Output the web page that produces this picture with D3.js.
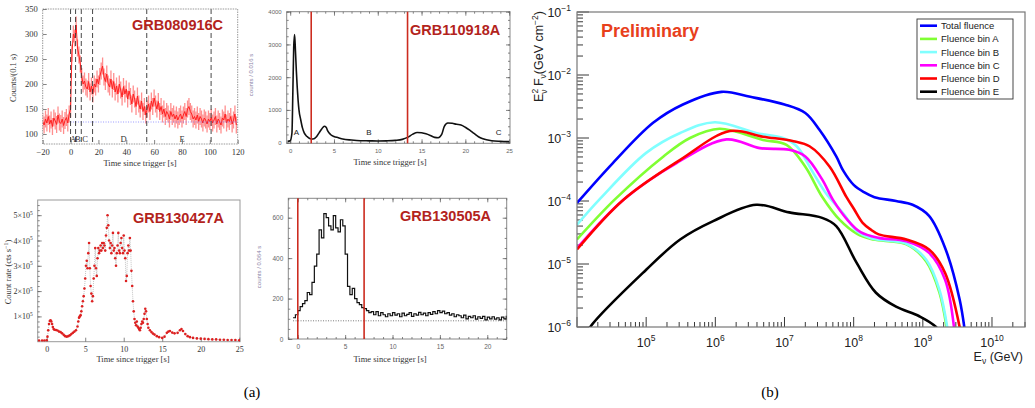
<!DOCTYPE html>
<html>
<head>
<meta charset="utf-8">
<script src="https://cdn.jsdelivr.net/npm/d3@7"></script>
<style>
  body { margin: 0; background: #fff; }
  svg { display: block; }
</style>
</head>
<body>
<svg width="1035" height="408"></svg>
<script>
// ---------- data: (a) light curves ----------
const binEdges080916C = [0, 3.6, 7.7, 15.8, 54.7, 100.9];
const binNames080916C = ["A", "B", "C", "D", "E"];
const binLabelX080916C = [1.8, 5.2, 10.5, 38, 80];
// counts / 0.1 s, one value per second from -20 s
const counts080916C = [
  [-20,125],[-19,118],[-18,130],[-17,122],[-16,135],[-15,120],[-14,128],[-13,115],[-12,132],[-11,126],
  [-10,119],[-9,138],[-8,124],[-7,121],[-6,130],[-5,117],[-4,127],[-3,133],[-2,122],[-1,140],
  [0,150],[1,262],[2,300],[3,292],[4,318],[5,272],[6,258],[7,240],[8,215],[9,200],
  [10,206],[11,194],[12,190],[13,205],[14,184],[15,196],[16,180],[17,200],[18,194],[19,210],
  [20,200],[21,215],[22,226],[23,236],[24,214],[25,205],[26,220],[27,200],[28,194],[29,210],
  [30,190],[31,205],[32,184],[33,196],[34,180],[35,200],[36,188],[37,174],[38,195],[39,180],
  [40,190],[41,170],[42,186],[43,175],[44,160],[45,180],[46,170],[47,155],[48,176],[49,160],
  [50,150],[51,166],[52,145],[53,155],[54,138],[55,150],[56,160],[57,145],[58,166],[59,155],
  [60,172],[61,160],[62,150],[63,165],[64,145],[65,155],[66,140],[67,150],[68,135],[69,145],
  [70,140],[71,130],[72,145],[73,135],[74,140],[75,130],[76,138],[77,128],[78,135],[79,140],
  [80,130],[81,138],[82,145],[83,135],[84,150],[85,155],[86,145],[87,140],[88,130],[89,135],
  [90,128],[91,138],[92,125],[93,135],[94,130],[95,122],[96,132],[97,128],[98,120],[99,130],
  [100,125],[101,133],[102,122],[103,128],[104,135],[105,120],[106,130],[107,125],[108,118],[109,132],
  [110,128],[111,140],[112,122],[113,130],[114,125],[115,135],[116,120],[117,128],[118,140],[119,118]
];
const background080916C = 124;

const cuts110918A = [2.4, 13.4];
const counts110918A = [
  [-0.3,40],[0,60],[0.2,300],[0.3,1500],[0.4,2900],[0.5,3300],[0.6,2800],[0.7,2200],[0.8,1700],[0.9,1300],
  [1.0,1000],[1.2,700],[1.4,450],[1.6,300],[1.8,220],[2.0,170],[2.3,120],[2.6,110],[3.0,180],[3.3,300],
  [3.6,420],[3.9,500],[4.1,470],[4.3,350],[4.6,250],[5.0,190],[5.5,150],[6,110],[7,80],[8,60],
  [9,55],[10,50],[11,55],[12,70],[12.8,100],[13.4,160],[14,260],[14.5,310],[15,300],[15.5,270],
  [16,220],[16.5,160],[16.9,150],[17.3,250],[17.6,500],[18,600],[18.5,590],[19,560],[19.5,540],[20,470],
  [20.5,380],[21,280],[21.5,180],[22,120],[23,60],[24,40],[25,30]
];
const letters110918A = [["A", 0.7], ["B", 9], ["C", 23.8]];

// count rate in units of 1e5 cts/s
const rate130427A = [
  [-1.0,0.05],[-0.6,0.05],[-0.3,0.05],[0,0.06],[0.1,0.2],[0.2,0.45],[0.3,0.7],[0.4,0.82],[0.5,0.85],[0.6,0.8],
  [0.7,0.7],[0.8,0.58],[0.9,0.5],[1.0,0.47],[1.2,0.46],[1.4,0.44],[1.6,0.4],[1.8,0.38],[2.0,0.33],[2.2,0.27],
  [2.4,0.22],[2.6,0.2],[2.8,0.22],[3.0,0.25],[3.2,0.3],[3.4,0.35],[3.6,0.4],[3.8,0.45],[4.0,0.6],[4.1,0.8],
  [4.2,0.95],[4.3,1.0],[4.4,1.05],[4.5,1.2],[4.6,1.4],[4.7,1.6],[4.8,1.8],[4.9,2.1],[5.0,2.5],[5.1,3.0],
  [5.2,3.2],[5.3,2.9],[5.4,3.5],[5.5,3.9],[5.6,2.9],[5.7,2.2],[5.8,1.9],[5.9,1.6],[6.0,1.8],[6.1,2.5],
  [6.2,3.0],[6.3,3.7],[6.4,2.9],[6.5,2.6],[6.6,3.3],[6.7,3.7],[6.8,3.5],[6.9,3.6],[7.0,3.8],[7.1,3.6],
  [7.2,3.9],[7.3,3.7],[7.4,3.9],[7.5,3.8],[7.6,3.6],[7.7,4.2],[7.8,4.5],[7.9,5.0],[8.0,4.6],[8.1,4.0],
  [8.2,3.7],[8.3,3.9],[8.4,3.5],[8.5,3.8],[8.6,4.3],[8.7,3.6],[8.8,3.7],[8.9,3.3],[9.0,3.0],[9.1,3.5],
  [9.2,3.8],[9.3,4.3],[9.4,3.6],[9.5,3.5],[9.6,3.9],[9.7,4.1],[9.8,3.7],[9.9,3.5],[10.0,4.2],[10.1,3.6],
  [10.2,3.3],[10.3,2.4],[10.4,2.6],[10.5,3.5],[10.6,3.8],[10.7,3.6],[10.8,4.1],[10.9,3.6],[11.0,2.8],[11.1,2.2],
  [11.2,1.6],[11.3,1.2],[11.4,0.9],[11.5,0.75],[11.6,0.65],[11.7,0.8],[11.8,0.6],[11.9,0.55],[12.0,0.5],[12.1,0.45],
  [12.2,0.55],[12.3,0.7],[12.4,0.8],[12.5,0.75],[12.6,0.9],[12.7,1.1],[12.8,1.3],[12.9,1.2],[13.0,0.9],[13.1,0.7],
  [13.2,0.55],[13.4,0.45],[13.6,0.38],[13.8,0.32],[14.0,0.28],[14.3,0.22],[14.6,0.18],[15.0,0.15],[15.3,0.2],[15.6,0.35],
  [15.8,0.4],[16.0,0.42],[16.3,0.36],[16.6,0.33],[17.0,0.35],[17.3,0.45],[17.5,0.5],[17.7,0.42],[18.0,0.3],[18.3,0.22],
  [18.6,0.18],[19.0,0.15],[19.5,0.13],[20,0.12],[20.5,0.11],[21,0.1],[21.5,0.09],[22,0.09],[22.5,0.08],[23,0.08],
  [23.5,0.07],[24,0.07],[24.5,0.07],[25,0.06]
];

const cuts130505A = [0, 7];
const background130505A = 90;
const counts130505A = [
  [-0.5,105],[-0.25,120],[0,140],[0.25,160],[0.5,175],[0.75,190],[1.0,230],[1.25,220],[1.5,280],[1.75,360],
  [2.0,420],[2.25,540],[2.5,500],[2.75,620],[3.0,600],[3.25,560],[3.5,540],[3.75,610],[4.0,550],[4.25,530],
  [4.5,590],[4.75,560],[5.0,420],[5.25,260],[5.5,220],[5.75,250],[6.0,200],[6.25,180],[6.5,170],[6.75,155],
  [7.0,150],[7.25,140],[7.5,130],[7.75,135],[8.0,120],[8.25,135],[8.5,115],[8.75,130],[9.0,120],[9.25,110],
  [9.5,125],[9.75,115],[10.0,130],[10.25,118],[10.5,125],[10.75,110],[11.0,128],[11.25,115],[11.5,122],[11.75,130],
  [12.0,112],[12.25,125],[12.5,118],[12.75,132],[13.0,120],[13.25,128],[13.5,115],[13.75,130],[14.0,122],[14.25,135],
  [14.5,125],[14.75,140],[15.0,130],[15.25,138],[15.5,125],[15.75,130],[16.0,118],[16.25,125],[16.5,110],[16.75,120],
  [17.0,115],[17.25,105],[17.5,118],[17.75,100],[18.0,112],[18.25,105],[18.5,115],[18.75,98],[19.0,110],[19.25,102],
  [19.5,112],[19.75,95],[20.0,108],[20.25,100],[20.5,110],[20.75,98],[21.0,105],[21.25,95],[21.5,108],[21.75,100],[22.0,115]
];

// ---------- data: (b) neutrino fluence, [E (GeV), E^2 F (GeV cm^-2)] ----------
const fluenceTotal = [[1e4,9.3e-5],[3.3e4,4.0e-4],[1.26e5,1.74e-3],[3.4e5,3.4e-3],[1.23e6,5.4e-3],[3.2e6,4.5e-3],
  [1.0e7,3.4e-3],[2.0e7,2.5e-3],[3.2e7,1.35e-3],[5.6e7,5.1e-4],[7.1e7,3.0e-4],[1.0e8,1.8e-4],[1.41e8,1.38e-4],
  [2.0e8,1.15e-4],[4.1e8,1.0e-4],[7.1e8,8.7e-5],[1.23e9,5.8e-5],[2.1e9,1.8e-5],[3.4e9,2.75e-6],[4.2e9,6.3e-7]];
const fluenceA = [[1e4,2.45e-5],[3.5e4,1.05e-4],[1.78e5,5.1e-4],[4.3e5,1.0e-3],[1.15e6,1.4e-3],[4.9e6,9.3e-4],
  [1.07e7,7.8e-4],[2.0e7,3.5e-4],[3.5e7,1.17e-4],[6.3e7,5.0e-5],[1.12e8,3.0e-5],[1.78e8,2.5e-5],[3.2e8,2.3e-5],
  [5.8e8,2.05e-5],[1.12e9,1.1e-5],[1.74e9,3.5e-6],[2.35e9,6.3e-7]];
const fluenceB = [[1e4,4.2e-5],[2.1e4,1.05e-4],[1e5,5.8e-4],[3.1e5,1.2e-3],[9.8e5,1.78e-3],[3.9e6,1.2e-3],
  [9.5e6,1.0e-3],[1.5e7,7.4e-4],[2.6e7,2.8e-4],[4.0e7,1.32e-4],[7.1e7,6.3e-5],[1.12e8,3.3e-5],[1.78e8,2.57e-5],
  [3.2e8,2.35e-5],[5.8e8,2.1e-5],[1.12e9,1.17e-5],[1.74e9,3.9e-6],[2.4e9,6.3e-7]];
const fluenceC = [[1e4,1.78e-5],[4.7e4,1.05e-4],[2.75e5,4.0e-4],[1.45e6,9.5e-4],[4.4e6,6.9e-4],[1.17e7,6.5e-4],
  [2.0e7,5.1e-4],[3.5e7,2.2e-4],[5.0e7,1.05e-4],[7.9e7,5.2e-5],[1.26e8,3.2e-5],[2.3e8,2.6e-5],[5.8e8,2.3e-5],
  [1.23e9,1.5e-5],[2.1e9,5.6e-6],[2.95e9,6.3e-7]];
const fluenceD = [[1e4,1.7e-5],[4.7e4,1.05e-4],[3.1e5,4.5e-4],[1.62e6,1.29e-3],[4.9e6,1.05e-3],[1.35e7,8.9e-4],
  [2.3e7,7.4e-4],[4.5e7,3.5e-4],[7.8e7,1.17e-4],[1.0e8,7.6e-5],[1.35e8,4.5e-5],[1.78e8,3.5e-5],[2.3e8,2.95e-5],
  [5.8e8,2.45e-5],[1.23e9,1.7e-5],[2.1e9,7.2e-6],[3.7e9,6.3e-7]];
const fluenceE = [[1.26e4,6.3e-7],[1.55e4,1e-6],[1e5,8.1e-6],[3.1e5,2.45e-5],[9.3e5,4.8e-5],[3.9e6,8.7e-5],
  [1.17e7,6.6e-5],[3.5e7,5.4e-5],[5.6e7,4.0e-5],[1.1e8,1.05e-5],[2.1e8,3.5e-6],[4.1e8,2.1e-6],[8.9e8,1.48e-6],
  [1.55e9,1e-6],[2.0e9,6.3e-7]];
const fluenceNames = ["Total fluence", "Fluence bin A", "Fluence bin B", "Fluence bin C", "Fluence bin D", "Fluence bin E"];
const fluenceColors = ["#0000ff", "#80ff33", "#80ffff", "#ff00ff", "#ff0000", "#000000"];
const fluenceSeries = [fluenceTotal, fluenceA, fluenceB, fluenceC, fluenceD, fluenceE];

// ---------- drawing ----------
const svg = d3.select("svg");
const serif = "'Liberation Serif','DejaVu Serif',serif";
const sans = "'Liberation Sans',Arial,sans-serif";
const titleRed = "#b3231c";
const defs = svg.append("defs");

function makePanel(o) {
    const g = svg.append("g");
    const x = d3.scaleLinear().domain(o.xDomain).range([o.x0, o.x1]);
    const y = d3.scaleLinear().domain(o.yDomain).range([o.y1, o.y0]);
    defs.append("clipPath").attr("id", "clip-" + o.name)
        .append("rect").attr("x", o.x0).attr("y", o.y0)
        .attr("width", o.x1 - o.x0).attr("height", o.y1 - o.y0);
    return { g, x, y, clip: "url(#clip-" + o.name + ")", o };
}

function styleAxis(a, font, size, color) {
    a.select(".domain").remove();
    a.selectAll("line").attr("stroke", "#666").attr("stroke-width", 0.8);
    a.selectAll("text").attr("font-family", font).attr("font-size", size).attr("fill", color);
    return a;
}

function ticksOn(p, xMajor, yMajor, xMinor, yMinor, font, size, color, allSides, yFmt) {
    const { g, x, y, o } = p;
    styleAxis(g.append("g").attr("transform", `translate(0,${o.y1})`)
        .call(d3.axisBottom(x).tickValues(xMajor).tickSize(-4).tickPadding(5)), font, size, color);
    const ay = styleAxis(g.append("g").attr("transform", `translate(${o.x0},0)`)
        .call(d3.axisLeft(y).tickValues(yMajor).tickSize(-4).tickPadding(5).tickFormat(yFmt || null)), font, size, color);
    if (xMinor) styleAxis(g.append("g").attr("transform", `translate(0,${o.y1})`)
        .call(d3.axisBottom(x).tickValues(xMinor).tickSize(-2).tickFormat("")), font, size, color);
    if (yMinor) styleAxis(g.append("g").attr("transform", `translate(${o.x0},0)`)
        .call(d3.axisLeft(y).tickValues(yMinor).tickSize(-2).tickFormat("")), font, size, color);
    if (allSides) {
        styleAxis(g.append("g").attr("transform", `translate(0,${o.y0})`)
            .call(d3.axisTop(x).tickValues(xMajor).tickSize(-4).tickFormat("")), font, size, color);
        styleAxis(g.append("g").attr("transform", `translate(${o.x1},0)`)
            .call(d3.axisRight(y).tickValues(yMajor).tickSize(-4).tickFormat("")), font, size, color);
        if (xMinor) styleAxis(g.append("g").attr("transform", `translate(0,${o.y0})`)
            .call(d3.axisTop(x).tickValues(xMinor).tickSize(-2).tickFormat("")), font, size, color);
        if (yMinor) styleAxis(g.append("g").attr("transform", `translate(${o.x1},0)`)
            .call(d3.axisRight(y).tickValues(yMinor).tickSize(-2).tickFormat("")), font, size, color);
    }
    return ay;
}

function frame(p, color, dash) {
    const { o } = p;
    p.g.append("rect").attr("x", o.x0).attr("y", o.y0)
        .attr("width", o.x1 - o.x0).attr("height", o.y1 - o.y0)
        .attr("fill", "none").attr("stroke", color).attr("stroke-width", 1)
        .attr("stroke-dasharray", dash || null);
}

function title(x, y, txt) {
    svg.append("text").attr("x", x).attr("y", y).attr("font-family", sans)
        .attr("font-weight", "bold").attr("font-size", 14.5).attr("fill", titleRed).text(txt);
}

function axisLabel(x, y, txt, font, size, color, rotate) {
    svg.append("text").attr("transform", `translate(${x},${y})` + (rotate ? " rotate(-90)" : ""))
        .attr("text-anchor", "middle").attr("font-family", font).attr("font-size", size)
        .attr("fill", color).text(txt);
}

const range = (a, b, s) => d3.range(a, b + s / 2, s);

// ---- GRB080916C ----
{
    const p = makePanel({ name: "p1", x0: 42.7, x1: 237.7, y0: 9, y1: 144, xDomain: [-20, 120], yDomain: [80, 350] });
    const { g, x, y, clip } = p;
    const dg = g.append("g").attr("clip-path", clip);
    dg.selectAll("line.err").data(counts080916C).join("line").attr("class", "err")
        .attr("x1", d => x(d[0])).attr("x2", d => x(d[0]))
        .attr("y1", d => y(d[1] - 17)).attr("y2", d => y(d[1] + 17))
        .attr("stroke", "#ff6060").attr("stroke-width", 1.3).attr("opacity", 0.7);
    dg.append("path").datum(counts080916C)
        .attr("d", d3.line().x(d => x(d[0])).y(d => y(d[1])))
        .attr("fill", "none").attr("stroke", "#ff2020").attr("stroke-width", 1);
    dg.append("line").attr("x1", x(0)).attr("x2", x(120))
        .attr("y1", y(background080916C)).attr("y2", y(background080916C))
        .attr("stroke", "#7f7fff").attr("stroke-width", 0.8).attr("stroke-dasharray", "1,1.5");
    g.selectAll("line.bin").data(binEdges080916C).join("line").attr("class", "bin")
        .attr("x1", d => x(d)).attr("x2", d => x(d)).attr("y1", p.o.y0).attr("y2", p.o.y1)
        .attr("stroke", "#333").attr("stroke-width", 0.9).attr("stroke-dasharray", "5,3");
    g.selectAll("text.bin").data(binNames080916C).join("text").attr("class", "bin")
        .attr("x", (d, i) => x(binLabelX080916C[i])).attr("y", 141.5).attr("text-anchor", "middle")
        .attr("font-family", serif).attr("font-size", 8.5).attr("fill", "#333").text(d => d);
    frame(p, "#999", "1.5,1");
    ticksOn(p, range(-20, 120, 20), range(100, 350, 50), null, null, serif, 8.5, "#333", false);
    title(132, 30, "GRB080916C");
    axisLabel(16, 78, "Counts/(0.1 s)", serif, 8.5, "#333", true);
    axisLabel(140, 166, "Time since trigger [s]", serif, 8.5, "#333", false);
}

// ---- GRB110918A ----
{
    const p = makePanel({ name: "p2", x0: 286.7, x1: 510, y0: 11.7, y1: 143.3, xDomain: [-0.4, 25.1], yDomain: [-20, 4000] });
    const { g, x, y, clip } = p;
    frame(p, "#888");
    ticksOn(p, range(0, 25, 5), range(0, 4000, 1000), range(0, 25, 1), range(0, 4000, 250), sans, 6, "#666", true, d3.format("d"));
    const dg = g.append("g").attr("clip-path", clip);
    dg.append("path").datum(counts110918A)
        .attr("d", d3.line().x(d => x(d[0])).y(d => y(d[1])).curve(d3.curveMonotoneX))
        .attr("fill", "none").attr("stroke", "#111").attr("stroke-width", 1.6);
    g.selectAll("line.cut").data(cuts110918A).join("line").attr("class", "cut")
        .attr("x1", d => x(d)).attr("x2", d => x(d)).attr("y1", p.o.y0).attr("y2", p.o.y1)
        .attr("stroke", "#cc2b1f").attr("stroke-width", 1.6);
    g.selectAll("text.let").data(letters110918A).join("text").attr("class", "let")
        .attr("x", d => x(d[1])).attr("y", 135).attr("text-anchor", "middle")
        .attr("font-family", sans).attr("font-size", 8).attr("fill", "#222").text(d => d[0]);
    title(410, 35, "GRB110918A");
    axisLabel(253, 75, "counts / 0.016 s", sans, 6, "#8a7fa6", true);
    axisLabel(390, 165, "Time since trigger [s]", serif, 8.5, "#333", false);
}

// ---- GRB130427A ----
{
    const p = makePanel({ name: "p3", x0: 37.7, x1: 240, y0: 200, y1: 341.7, xDomain: [-1.17, 25.1], yDomain: [0, 5.6] });
    const { g, x, y, clip } = p;
    frame(p, "#999");
    const ay = ticksOn(p, range(0, 25, 5), range(1, 5, 1), null, range(0.2, 5.4, 0.2), serif, 8, "#333", false);
    ay.selectAll("text").text(null).each(function (d) {
        const t = d3.select(this);
        t.append("tspan").text(d + "×10");
        t.append("tspan").attr("dy", -3.5).attr("font-size", 5.5).text("5");
    });
    const dg = g.append("g").attr("clip-path", clip);
    dg.append("path").datum(rate130427A)
        .attr("d", d3.line().x(d => x(d[0])).y(d => y(d[1])))
        .attr("fill", "none").attr("stroke", "#aaa").attr("stroke-width", 0.7).attr("stroke-dasharray", "1,1");
    dg.selectAll("circle").data(rate130427A).join("circle")
        .attr("cx", d => x(d[0])).attr("cy", d => y(d[1])).attr("r", 1.3).attr("fill", "#dd2020");
    title(133, 223, "GRB130427A");
    const lab = svg.append("text").attr("transform", "translate(11,272) rotate(-90)")
        .attr("text-anchor", "middle").attr("font-family", serif).attr("font-size", 8.5).attr("fill", "#333");
    lab.append("tspan").text("Count rate  (cts s");
    lab.append("tspan").attr("dy", -3.5).attr("font-size", 6).text("−1");
    lab.append("tspan").attr("dy", 3.5).text(")");
    axisLabel(133, 362, "Time since trigger [s]", serif, 8.5, "#333", false);
}

// ---- GRB130505A ----
{
    const p = makePanel({ name: "p4", x0: 288.3, x1: 506.7, y0: 198.3, y1: 339, xDomain: [-1, 22.05], yDomain: [0, 696] });
    const { g, x, y, clip } = p;
    frame(p, "#888");
    ticksOn(p, range(0, 20, 5), range(0, 600, 200), range(-1, 22, 1), range(0, 650, 50), sans, 6.5, "#666", true);
    const dg = g.append("g").attr("clip-path", clip);
    dg.append("line").attr("x1", x(-0.5)).attr("x2", x(22))
        .attr("y1", y(background130505A)).attr("y2", y(background130505A))
        .attr("stroke", "#555").attr("stroke-width", 0.8).attr("stroke-dasharray", "1,1.5");
    dg.append("path").datum(counts130505A)
        .attr("d", d3.line().x(d => x(d[0])).y(d => y(d[1])).curve(d3.curveStepAfter))
        .attr("fill", "none").attr("stroke", "#111").attr("stroke-width", 1.2);
    g.selectAll("line.cut").data(cuts130505A).join("line").attr("class", "cut")
        .attr("x1", d => x(d)).attr("x2", d => x(d)).attr("y1", p.o.y0).attr("y2", p.o.y1)
        .attr("stroke", "#cc2b1f").attr("stroke-width", 1.6);
    title(400, 221, "GRB130505A");
    axisLabel(261, 267, "counts / 0.064 s", sans, 6, "#8a7fa6", true);
    axisLabel(390, 362, "Time since trigger [s]", serif, 8.5, "#333", false);
}

svg.append("text").attr("x", 252).attr("y", 397).attr("text-anchor", "middle")
    .attr("font-family", serif).attr("font-size", 15).text("(a)");

// ---- (b) fluence ----
{
    const X0 = 577, X1 = 1025, Y0 = 12, Y1 = 327;
    const x = d3.scaleLog().domain([1e4, 3e10]).range([X0, X1]);
    const y = d3.scaleLog().domain([1e-6, 1e-1]).range([Y1, Y0]);
    const g = svg.append("g");
    defs.append("clipPath").attr("id", "clip-b").append("rect")
        .attr("x", X0).attr("y", Y0).attr("width", X1 - X0).attr("height", Y1 - Y0);

    const isMajor = v => Math.abs(Math.log10(v) - Math.round(Math.log10(v))) < 1e-6;

    g.selectAll("line.xt").data(x.ticks()).join("line").attr("class", "xt")
        .attr("x1", d => x(d)).attr("x2", d => x(d))
        .attr("y1", Y1).attr("y2", d => Y1 - (isMajor(d) ? 10 : 5))
        .attr("stroke", "#222").attr("stroke-width", 0.9);
    g.selectAll("line.yt").data(y.ticks()).join("line").attr("class", "yt")
        .attr("y1", d => y(d)).attr("y2", d => y(d))
        .attr("x1", X0).attr("x2", d => X0 + (isMajor(d) ? 12 : 6))
        .attr("stroke", "#222").attr("stroke-width", 0.9);

    g.selectAll("text.xl").data(x.ticks().filter(isMajor).filter(d => d > 1e4)).join("text").attr("class", "xl")
        .attr("x", d => x(d)).attr("y", 347).attr("text-anchor", "middle")
        .attr("font-family", sans).attr("font-size", 12.5).attr("fill", "#222")
        .each(function (d) {
            const t = d3.select(this);
            t.append("tspan").text("10");
            t.append("tspan").attr("dy", -6).attr("font-size", 8.5).text(Math.round(Math.log10(d)));
        });
    g.selectAll("text.yl").data(y.ticks().filter(isMajor)).join("text").attr("class", "yl")
        .attr("x", 571).attr("y", d => y(d) + 5).attr("text-anchor", "end")
        .attr("font-family", sans).attr("font-size", 12.5).attr("fill", "#222")
        .each(function (d) {
            const t = d3.select(this);
            t.append("tspan").text("10");
            t.append("tspan").attr("dy", -6).attr("font-size", 8.5).text("−" + Math.abs(Math.round(Math.log10(d))));
        });

    const line = d3.line().x(d => x(d[0])).y(d => y(d[1])).curve(d3.curveCatmullRom.alpha(0.5));
    g.append("g").attr("clip-path", "url(#clip-b)")
        .selectAll("path").data(fluenceSeries).join("path")
        .attr("d", line).attr("fill", "none")
        .attr("stroke", (d, i) => fluenceColors[i]).attr("stroke-width", 2.6);

    g.append("rect").attr("x", X0).attr("y", Y0).attr("width", X1 - X0).attr("height", Y1 - Y0)
        .attr("fill", "none").attr("stroke", "#777").attr("stroke-width", 1.2);

    // legend
    const lg = g.append("g");
    lg.append("rect").attr("x", 917).attr("y", 19).attr("width", 96).attr("height", 80)
        .attr("fill", "#fff").attr("stroke", "#333").attr("stroke-width", 0.9);
    const rows = lg.selectAll("g").data(fluenceNames).join("g")
        .attr("transform", (d, i) => `translate(0,${25.7 + i * 13.2})`);
    rows.append("line").attr("x1", 920).attr("x2", 937).attr("y1", 0).attr("y2", 0)
        .attr("stroke", (d, i) => fluenceColors[i]).attr("stroke-width", 2.6);
    rows.append("text").attr("x", 941).attr("y", 3.5).attr("font-family", sans).attr("font-size", 9.5)
        .attr("fill", "#222").text(d => d);

    svg.append("text").attr("x", 601).attr("y", 37).attr("font-family", sans)
        .attr("font-weight", "bold").attr("font-size", 18).attr("fill", "#e8401c").text("Preliminary");

    const yl = svg.append("text").attr("transform", "translate(543,11) rotate(-90)")
        .attr("text-anchor", "end").attr("font-family", sans).attr("font-size", 12.5).attr("fill", "#222");
    yl.append("tspan").text("E");
    yl.append("tspan").attr("dy", -5).attr("font-size", 8.5).text("2");
    yl.append("tspan").attr("dx", -5).attr("dy", 9).attr("font-size", 8.5).text("ν");
    yl.append("tspan").attr("dy", -4).text(" F");
    yl.append("tspan").attr("dy", 3).attr("font-size", 8.5).text("ν");
    yl.append("tspan").attr("dy", -3).text("(GeV cm");
    yl.append("tspan").attr("dy", -5).attr("font-size", 8.5).text("−2");
    yl.append("tspan").attr("dy", 5).text(")");

    const xl = svg.append("text").attr("x", 1023).attr("y", 361).attr("text-anchor", "end")
        .attr("font-family", sans).attr("font-size", 12.5).attr("fill", "#222");
    xl.append("tspan").text("E");
    xl.append("tspan").attr("dy", 3).attr("font-size", 8.5).text("ν");
    xl.append("tspan").attr("dy", -3).text(" (GeV)");

    svg.append("text").attr("x", 770).attr("y", 397).attr("text-anchor", "middle")
        .attr("font-family", serif).attr("font-size", 15).text("(b)");
}
</script>
</body>
</html>
